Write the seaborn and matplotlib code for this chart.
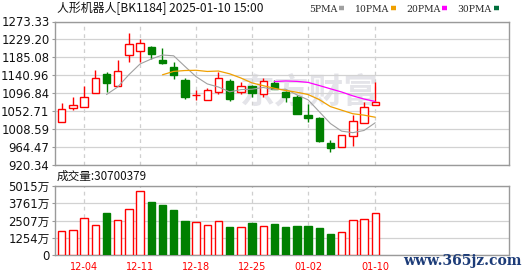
import numpy as np
import pandas as pd
import matplotlib
matplotlib.use("Agg")
import matplotlib.pyplot as plt
import seaborn as sns
from matplotlib.lines import Line2D

# ---------------- data ----------------
dates = ['12-02', '12-03', '12-04', '12-05', '12-06', '12-09', '12-10', '12-11', '12-12', '12-13',
         '12-16', '12-17', '12-18', '12-19', '12-20', '12-23', '12-24', '12-25', '12-26', '12-27',
         '12-30', '12-31', '01-02', '01-03', '01-06', '01-07', '01-08', '01-09', '01-10']
open_ = [1025.4, 1059.8, 1062.3, 1096.7, 1144.2, 1113.9, 1190.9, 1200.0, 1209.9, 1177.9,
         1160.7, 1129.4, 1092.0, 1079.5, 1099.2, 1126.2, 1099.9, 1114.7, 1094.3, 1122.0,
         1099.9, 1086.9, 1042.6, 1036.0, 973.7, 963.9, 990.9, 1022.9, 1067.2]
high = [1073.6, 1087.6, 1114.7, 1154.0, 1149.1, 1178.6, 1244.3, 1229.5, 1213.8, 1208.1,
        1173.7, 1134.3, 1104.1, 1109.7, 1149.8, 1131.1, 1124.5, 1116.4, 1134.3, 1129.4,
        1102.4, 1091.8, 1070.4, 1037.6, 981.1, 993.4, 1044.1, 1075.3, 1124.5]
low = [1025.4, 1056.4, 1062.3, 1096.7, 1100.7, 1113.9, 1174.4, 1174.4, 1181.1, 1168.8,
       1132.6, 1083.4, 1079.5, 1079.5, 1095.7, 1078.5, 1095.7, 1086.9, 1088.3, 1107.3,
       1076.1, 1046.5, 1025.4, 977.7, 951.6, 963.9, 967.8, 1022.9, 1067.2]
close = [1057.3, 1067.2, 1086.9, 1133.6, 1122.8, 1150.8, 1218.0, 1219.7, 1194.1, 1172.0,
         1141.0, 1088.3, 1093.0, 1104.8, 1133.6, 1081.9, 1115.4, 1098.2, 1126.2, 1107.3,
         1086.9, 1046.5, 1036.7, 980.1, 961.4, 993.4, 1027.8, 1063.8, 1074.6]
volume_wan = [1745, 1818, 2668, 2159, 3053, 2544, 3322, 4653, 3853, 3635,
              3272, 2472, 2399, 2159, 2472, 2036, 2014, 2326, 2086, 2254,
              2036, 2108, 2108, 1963, 1527, 1672, 2544, 2617, 3070]
price_ticks = ['920.34', '964.47', '1008.59', '1052.71', '1096.84', '1140.96', '1185.08', '1229.20', '1273.33']
vol_ticks = [0, 1254, 2507, 3761, 5015]
vol_tick_labels = ['0', '1254万', '2507万', '3761万', '5015万']
date_ticks = ['12-04', '12-11', '12-18', '12-25', '01-02', '01-10']
ma_names = ['5PMA', '10PMA', '20PMA', '30PMA']
ma_windows = [5, 10, 20, 30]
ma_colors = ['#a0a0a0', '#f0a000', '#ff00ff', '#006f3c']
title = '人形机器人[BK1184] 2025-01-10 15:00'
vol_title = '成交量:30700379'

# ---------------- style ----------------
sns.set_theme(style='white')
plt.rcParams['font.family'] = ['DejaVu Sans', 'Noto Sans CJK SC']
RED = '#ff0000'
GREEN = '#008000'
GRID = '#d2d2d2'
SPINE = '#9a9a9a'

df = pd.DataFrame({'date': dates, 'open': open_, 'high': high, 'low': low,
                   'close': close, 'vol': volume_wan})
df['idx'] = np.arange(len(df))
df['up'] = df['close'] >= df['open']

W, H = 530, 276
fig = plt.figure(figsize=(W / 100, H / 100), dpi=100)
fig.patch.set_facecolor('white')

def px_axes(left, top, right, bottom):
    return fig.add_axes([left / W, 1 - bottom / H, (right - left) / W, (bottom - top) / H])

ax = px_axes(55, 21.5, 509, 165)
axv = px_axes(55, 186, 509, 255)

xlim = (-0.6, 39.95)
pvals = [float(t) for t in price_ticks]

# watermark
ax.text(0.56, 0.51, '东方财富', transform=ax.transAxes, ha='center', va='center',
        fontsize=25, fontweight='bold', color='#e4e4e9', zorder=0,
        family=['Noto Sans CJK SC'])

# candles
bw = 0.66
for r in df.itertuples():
    c = RED if r.up else GREEN
    ax.vlines(r.idx, r.low, r.high, color=c, lw=1.0, zorder=3)
    bottom = min(r.open, r.close)
    height = max(abs(r.close - r.open), 0.6)
    ax.bar(r.idx, height, bottom=bottom, width=bw,
           facecolor='white' if r.up else GREEN, edgecolor=c, lw=1.0, zorder=4)

# moving averages
for name, w, col in zip(ma_names, ma_windows, ma_colors):
    df[name] = df['close'].rolling(w).mean()
    sub = df.dropna(subset=[name])
    if len(sub):
        sns.lineplot(data=sub, x='idx', y=name, ax=ax, color=col,
                     lw=0.8 if w == 5 else 0.9, zorder=5)

ax.set_xlim(*xlim)
ax.set_ylim(pvals[0], pvals[-1])
ax.set_yticks(pvals)
ax.set_yticklabels(price_ticks)
ax.set_xticks([dates.index(d) for d in date_ticks])
ax.set_xticklabels([])
ax.set_xlabel('')
ax.set_ylabel('')

# volume bars
for r in df.itertuples():
    c = RED if r.up else GREEN
    axv.bar(r.idx, r.vol, width=bw, facecolor='white' if r.up else GREEN,
            edgecolor=c, lw=1.0, zorder=3)
axv.set_xlim(*xlim)
axv.set_ylim(0, vol_ticks[-1])
axv.set_yticks(vol_ticks)
axv.set_yticklabels(vol_tick_labels)
axv.set_xticks([dates.index(d) for d in date_ticks])
axv.set_xticklabels(date_ticks)

for a in (ax, axv):
    a.grid(axis='y', color=GRID, lw=0.9, ls='-', zorder=1)
    a.grid(axis='x', color='#cfcfcf', lw=0.9, ls=(0, (3, 3)), zorder=1)
    a.set_axisbelow(True)
    for s in a.spines.values():
        s.set_color(SPINE)
        s.set_linewidth(1.0)
    a.tick_params(axis='y', left=True, length=2.5, width=0.8, color=SPINE, pad=1.5,
                  labelsize=8.4, labelcolor='#111111')
    a.tick_params(axis='x', bottom=False, length=0)
for t in axv.get_yticklabels():
    t.set_family(['DejaVu Sans', 'Noto Sans CJK SC'])
axv.tick_params(axis='x', labelsize=7, labelcolor=RED, pad=5)

# titles
fig.text(57 / W, 1 - 8.5 / H, title, ha='left', va='center', fontsize=8.6,
         color='#111111', family=['Noto Sans CJK SC', 'DejaVu Sans'])
fig.text(57 / W, 1 - 176 / H, vol_title, ha='left', va='center', fontsize=8.4,
         color='#111111', family=['Noto Sans CJK SC', 'DejaVu Sans'])

# MA legend (label then colour swatch)
handles = [Line2D([], [], color=c, lw=3.2, solid_capstyle='butt') for c in ma_colors]
fig.legend(handles, ma_names, ncol=4, markerfirst=False, loc='center right',
           bbox_to_anchor=(499 / W, 1 - 9 / H), frameon=False,
           handlelength=0.55, handletextpad=0.22, columnspacing=1.1,
           borderpad=0, borderaxespad=0, prop={'family': 'DejaVu Serif', 'size': 6.7})

# site watermark
fig.text(522 / W, 1 - 261 / H, 'www.365jz.com', ha='right', va='center', fontsize=10,
         fontweight='bold', color='#1d3c78', family='DejaVu Serif')

fig.savefig('out.png', dpi=100, facecolor='white')
